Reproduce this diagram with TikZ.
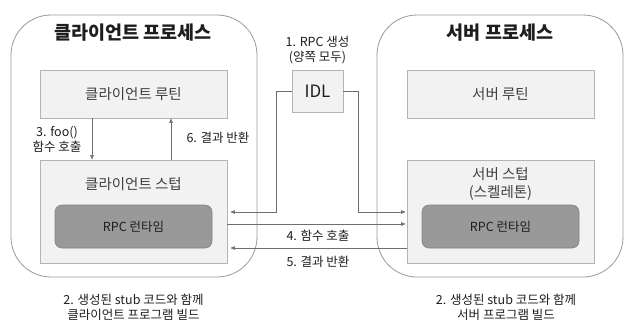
\documentclass[tikz,border=0pt]{standalone}
\usepackage{fontspec}
\setmainfont{Noto Sans CJK KR}
\usetikzlibrary{arrows.meta, positioning}

\begin{document}
\begin{tikzpicture}[x=1pt, y=-1pt]
\definecolor{boxfill}{RGB}{242,242,242}
\definecolor{boxline}{RGB}{180,180,180}
\definecolor{rtfill}{RGB}{153,153,153}
\definecolor{rtline}{RGB}{130,130,130}
\definecolor{wire}{RGB}{110,110,110}
\definecolor{inktext}{RGB}{30,30,30}
\tikzset{
  procbox/.style={draw=rtfill, line width=0.8pt, rounded corners=40pt, minimum width=246pt, minimum height=262pt, inner sep=0pt},
  partbox/.style={draw=boxline, fill=boxfill, line width=0.8pt, minimum width=187pt, inner sep=0pt},
  rtbox/.style={draw=rtline, fill=rtfill, line width=0.6pt, rounded corners=7pt, minimum width=157pt, minimum height=43pt, inner sep=0pt, font=\fontsize{12.5}{14}\selectfont, text=inktext},
  title/.style={font=\fontsize{18.5}{22}\selectfont\bfseries, text=inktext},
  body/.style={font=\fontsize{14.5}{18}\selectfont, text=inktext!85},
  note/.style={font=\fontsize{12.5}{15}\selectfont, text=inktext, align=center},
  wirearrow/.style={draw=wire, line width=0.6pt, -{Triangle[length=4.5pt, width=3.5pt]}},
  wireline/.style={draw=wire, line width=0.6pt}
}
\useasboundingbox (0,0) rectangle (633,330);

% ---- client side ----
\node[procbox] (cproc) at (134,146) {};
\node[title] (ctitle) at (133,33) {클라이언트 프로세스};
\node[partbox, minimum height=48pt, body] (croutine) at (133.5,94) {클라이언트 루틴};
\node[partbox, minimum height=103pt] (cstub) at (133.5,211.5) {};
\node[body] (cstubtxt) at (133.5,184) {클라이언트 스텁};
\node[rtbox] (crt) at (133.5,226.5) {RPC 런타임};

% ---- server side ----
\node[procbox] (sproc) at (500,146) {};
\node[title] (stitle) at (500,33) {서버 프로세스};
\node[partbox, minimum height=48pt, body] (sroutine) at (500.5,94) {서버 루틴};
\node[partbox, minimum height=103pt] (sstub) at (500.5,211.5) {};
\node[body, align=center] (sstubtxt) at (500.5,184) {서버 스텁\\(스켈레톤)};
\node[rtbox] (srt) at (500.5,226.5) {RPC 런타임};

% ---- IDL ----
\node[partbox, minimum width=51pt, minimum height=42pt, font=\fontsize{17}{20}\selectfont, text=inktext] (idl) at (317.5,91) {IDL};
\node[note, above=2pt of idl] (idlnote) {1. RPC 생성\\(양쪽 모두)};

% routine <-> stub
\draw[wirearrow] (croutine.south -| 92,0) -- (cstub.north -| 92,0);
\draw[wirearrow] (cstub.north -| 171,0) -- (croutine.south -| 171,0);
\node[note] (callnote) at (57,139) {3. foo()\\함수 호출};
\node[note] (retnote) at (218,138) {6. 결과 반환};

% IDL -> stubs
\coordinate (cin) at ([xshift=3pt]cstub.east |- 0,212);
\coordinate (sin) at ([xshift=-1pt]sstub.west |- 0,212);
\draw[wirearrow] (idl.west) -- (276,91) |- (cin);
\draw[wirearrow] (idl.east) -- (358,91) |- (sin);

% calls between stubs
\coordinate (cout) at (cstub.east |- 0,224);
\coordinate (sout) at ([xshift=-1pt]sstub.west |- 0,224);
\draw[wirearrow] (cout) -- (sout);
\node[note] (fwdnote) at (318,236) {4. 함수 호출};
\coordinate (sback) at (sstub.west |- 0,248);
\coordinate (cback) at ([xshift=3pt]cstub.east |- 0,248);
\draw[wirearrow] (sback) -- (cback);
\node[note] (backnote) at (318,262) {5. 결과 반환};

% build notes
\node[note] (cbuild) at (133.5,307) {2. 생성된 stub 코드와 함께\\클라이언트 프로그램 빌드};
\node[note] (sbuild) at (506,307) {2. 생성된 stub 코드와 함께\\서버 프로그램 빌드};
\end{tikzpicture}
\end{document}
